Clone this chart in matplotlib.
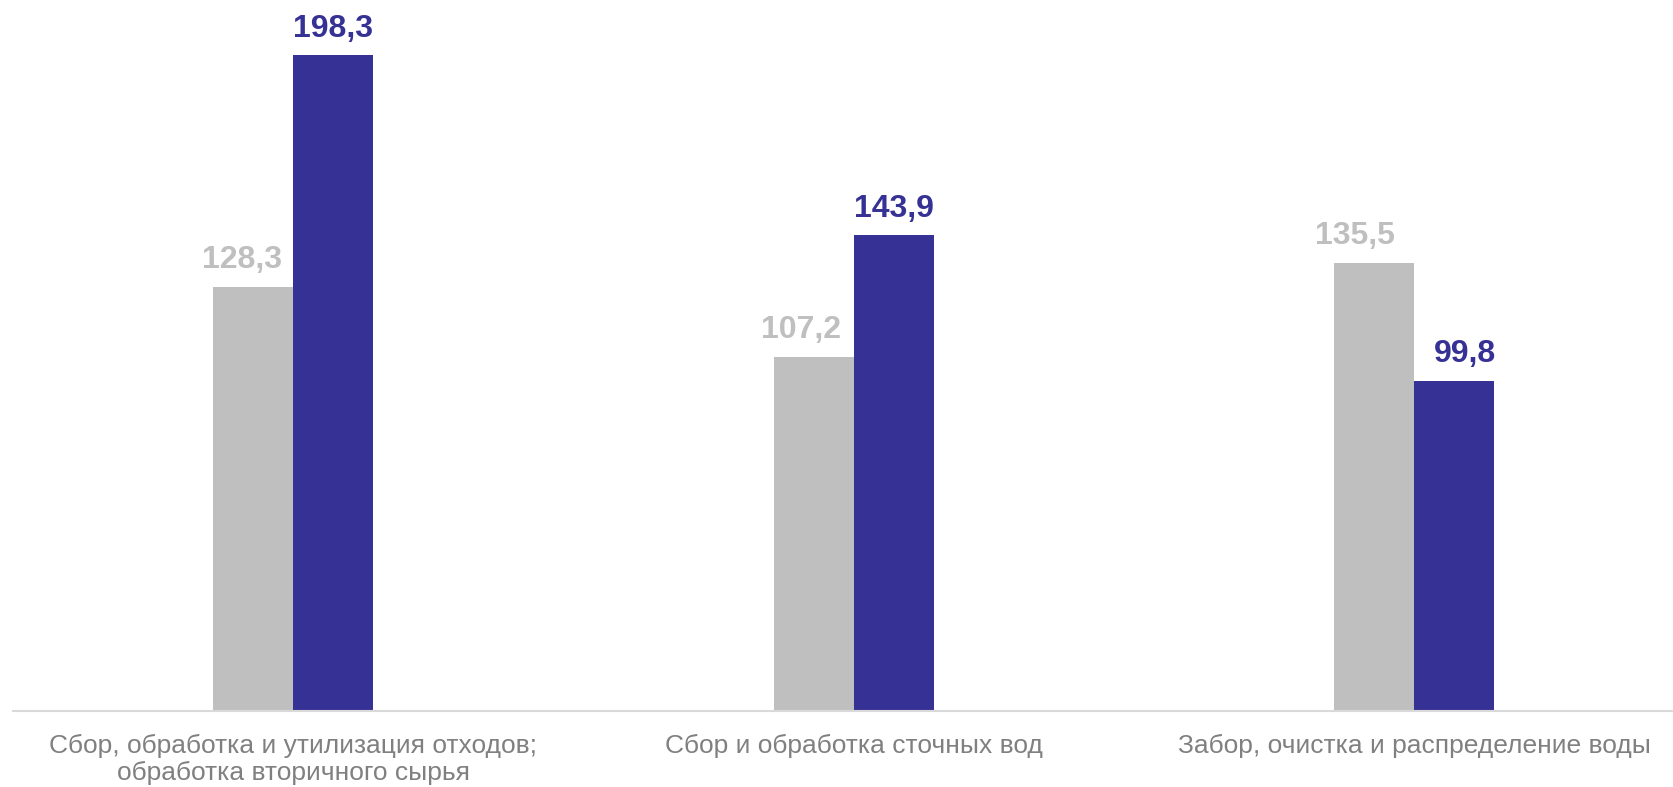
import matplotlib.pyplot as plt
import numpy as np

plt.rcParams['font.family'] = ['Liberation Sans', 'DejaVu Sans']

categories = ["Сбор, обработка и утилизация отходов;\nобработка вторичного сырья",
              "Сбор и обработка сточных вод",
              "Забор, очистка и распределение воды"]
series_gray = [128.3, 107.2, 135.5]
series_blue = [198.3, 143.9, 99.8]

gray = "#BFBFBF"
blue = "#363194"

# small horizontal nudges of the value labels (points), as in the original
gray_dx = [-8, -9, -14]
blue_dx = [0, 0, 8]

W, H = 1673, 787
fig = plt.figure(figsize=(W / 100, H / 100), dpi=100)
# axes: left edge at x=13px, baseline at y=711px
ax = fig.add_axes([13 / W, 1 - 711 / H, 1 - 13 / W, 711 / H])

x = np.arange(len(categories))
bw = 0.1427
ax.bar(x - bw / 2, series_gray, width=bw, color=gray)
ax.bar(x + bw / 2, series_blue, width=bw, color=blue)

for xi, v, dx in zip(x - bw / 2, series_gray, gray_dx):
    ax.annotate(f"{v:.1f}".replace(".", ","), (xi, v), xytext=(dx, 13.5),
                textcoords="offset points", ha="center", va="baseline",
                fontsize=23, fontweight="bold", color=gray)
for xi, v, dx in zip(x + bw / 2, series_blue, blue_dx):
    ax.annotate(f"{v:.1f}".replace(".", ","), (xi, v), xytext=(dx, 13.5),
                textcoords="offset points", ha="center", va="baseline",
                fontsize=23, fontweight="bold", color=blue)

ax.set_xlim(-0.5, (1673 - 293) / 560.5)
ax.set_ylim(0, 711 / 3.306)
ax.set_xticks(x)
ax.set_xticklabels(categories, fontsize=19, color="#808080", linespacing=1.15)
ax.tick_params(axis="x", length=0, pad=16.5)
ax.set_yticks([])
for s in ["top", "right", "left"]:
    ax.spines[s].set_visible(False)
ax.spines["bottom"].set_color("#D9D9D9")
ax.spines["bottom"].set_linewidth(1.5)

fig.savefig("out.png", dpi=100)
